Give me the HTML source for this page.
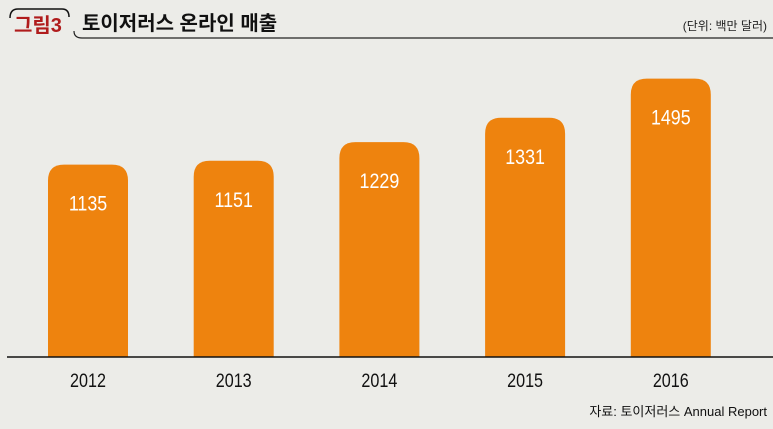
<!DOCTYPE html>
<html><head><meta charset="utf-8"><style>
body{margin:0;background:#ecece8;}
svg{display:block;font-family:"Liberation Sans","Noto Sans CJK KR",sans-serif;}
</style></head><body>
<svg width="773" height="429" viewBox="0 0 773 429">
<rect width="773" height="429" fill="#ecece8"/>
<path d="M10,18 Q10,9 18,9 L62,9 Q69,9 69,17" fill="none" stroke="#111" stroke-width="1.5"/>
<text x="14" y="32" font-size="20" fill="#b01c1c" font-weight="bold">그림3</text>
<path d="M74,31 Q74,38 82,38 L773,38" fill="none" stroke="#222" stroke-width="1.2"/>
<text x="82" y="30" font-size="20" font-weight="bold" fill="#111">토이저러스 온라인 매출</text>
<text x="767" y="30" font-size="12" fill="#222" text-anchor="end">(단위: 백만 달러)</text>
<g id="bars"></g>
<line x1="7" y1="357" x2="773" y2="357" stroke="#111" stroke-width="1.5"/>
<text x="767" y="416" font-size="13" fill="#111" text-anchor="end">자료: 토이저러스 Annual Report</text>
</svg>
<script>
const categories=["2012","2013","2014","2015","2016"];
const values=[1135,1151,1229,1331,1495];
const base=357, x0=48, step=145.7, bw=80, r=16;
function yScale(v){return base-(v-330)*0.239;}
const g=document.getElementById('bars');
const ns="http://www.w3.org/2000/svg";
categories.forEach((c,i)=>{
  const x=x0+i*step, y=yScale(values[i]);
  const cx=x+bw/2;
  const p=document.createElementNS(ns,'path');
  p.setAttribute('d',`M${x},${base} L${x},${y+r} Q${x},${y} ${x+r},${y} L${x+bw-r},${y} Q${x+bw},${y} ${x+bw},${y+r} L${x+bw},${base} Z`);
  p.setAttribute('fill','#ee830e');
  
  
  g.appendChild(p);
  const t=document.createElementNS(ns,'text');
  t.setAttribute('x',cx);t.setAttribute('y',y+46);
  t.setAttribute('text-anchor','middle');t.setAttribute('font-size','21');t.setAttribute('fill','#fff');
  t.setAttribute('transform',`translate(${cx},0) scale(0.85,1) translate(${-cx},0)`);
  t.textContent=values[i];
  
  
  g.appendChild(t);
  const l=document.createElementNS(ns,'text');
  l.setAttribute('x',cx);l.setAttribute('y',387);
  l.setAttribute('text-anchor','middle');l.setAttribute('font-size','19');l.setAttribute('fill','#111');
  l.setAttribute('transform',`translate(${cx},0) scale(0.85,1) translate(${-cx},0)`);
  l.textContent=c;
  
  
  g.appendChild(l);
});
</script>
</body></html>
